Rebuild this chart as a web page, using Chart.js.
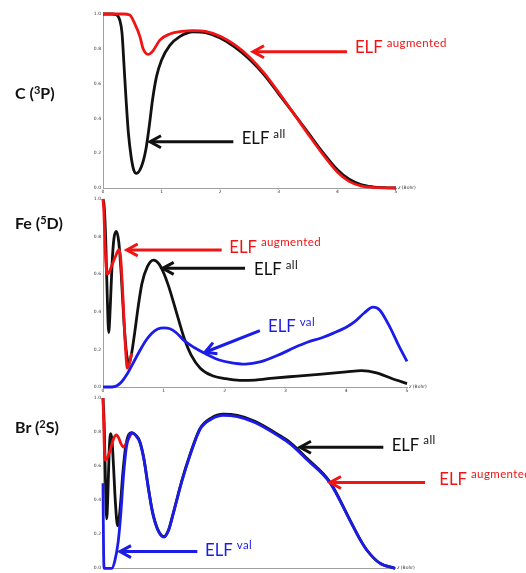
<!DOCTYPE html>
<html>
<head>
<meta charset="utf-8">
<script src="https://cdn.jsdelivr.net/npm/chart.js@4.4.1/dist/chart.umd.min.js"></script>
<style>
body { margin: 0; background: #fff; }
#page { position: relative; width: 526px; height: 573px; overflow: hidden; }
#page canvas { position: absolute; left: 0; top: 0; }
.panel { position: absolute; left: 15px; font: bold 16px Lato, sans-serif; color: #111; line-height: 20px; white-space: nowrap; }
.panel sup { font-size: 11px; position: relative; top: -5px; vertical-align: baseline; }
.note { position: absolute; white-space: nowrap; font-family: Lato, sans-serif; font-size: 16.7px; line-height: 1; }
.note sup { font-size: 11.5px; position: relative; top: -6.5px; vertical-align: baseline; margin-left: 4px; letter-spacing: 0.4px; }
.unit { position: absolute; white-space: nowrap; font: 4.5px "DejaVu Sans", sans-serif; color: #333; line-height: 1; }
</style>
</head>
<body>
<div id="page">
    <canvas id="c1" width="526" height="573"></canvas>
    <canvas id="c2" width="526" height="573"></canvas>
    <canvas id="c3" width="526" height="573"></canvas>
    <div class="panel" style="top:83px">C (<sup>3</sup>P)</div>
    <div class="panel" style="top:213px">Fe (<sup>5</sup>D)</div>
    <div class="panel" style="top:417px">Br (<sup>2</sup>S)</div>
</div>
<script>
// ELF profiles, [z (Bohr), ELF]
const cAll = [[0, 1], [0.15, 1], [0.23, 0.996], [0.285, 0.966], [0.325, 0.889], [0.36, 0.697], [0.394, 0.506],
    [0.434, 0.314], [0.48, 0.18], [0.525, 0.103], [0.571, 0.084], [0.656, 0.123], [0.73, 0.218], [0.788, 0.352],
    [0.845, 0.506], [0.913, 0.64], [1.0, 0.736], [1.14, 0.82], [1.31, 0.87], [1.54, 0.898], [1.75, 0.893],
    [2.0, 0.862], [2.25, 0.81], [2.5, 0.74], [2.75, 0.65], [3.0, 0.54], [3.25, 0.43], [3.5, 0.318], [3.75, 0.205],
    [4.0, 0.105], [4.2, 0.05], [4.4, 0.02], [4.6, 0.007], [4.8, 0.002], [5.0, 0]];
const cAug = [[0, 1], [0.35, 1], [0.457, 0.994], [0.54, 0.946], [0.63, 0.87], [0.685, 0.8], [0.77, 0.768],
    [0.856, 0.79], [0.97, 0.85], [1.14, 0.885], [1.35, 0.9], [1.54, 0.905], [1.75, 0.9], [2.0, 0.872],
    [2.25, 0.822], [2.5, 0.752], [2.75, 0.66], [3.0, 0.548], [3.25, 0.43], [3.5, 0.31], [3.75, 0.195],
    [4.0, 0.092], [4.2, 0.038], [4.4, 0.012], [4.6, 0.004], [4.8, 0.001], [5.0, 0]];

const feAll = [[0, 1], [0.02, 0.96], [0.045, 0.78], [0.07, 0.48], [0.094, 0.29], [0.12, 0.43], [0.15, 0.66],
    [0.18, 0.79], [0.22, 0.828], [0.26, 0.77], [0.3, 0.6], [0.34, 0.37], [0.38, 0.2], [0.425, 0.125],
    [0.46, 0.16], [0.5, 0.24], [0.526, 0.3], [0.58, 0.43], [0.64, 0.55], [0.73, 0.64], [0.83, 0.675],
    [0.92, 0.655], [1.0, 0.605], [1.08, 0.535], [1.16, 0.45], [1.25, 0.35], [1.34, 0.255], [1.45, 0.17],
    [1.6, 0.1], [1.8, 0.06], [2.0, 0.045], [2.25, 0.035], [2.5, 0.037], [2.8, 0.047], [3.2, 0.058],
    [3.6, 0.069], [4.0, 0.08], [4.25, 0.087], [4.5, 0.075], [4.75, 0.045], [5.0, 0.018]];
const feAug = [[0, 1], [0.015, 0.93], [0.035, 0.74], [0.066, 0.6], [0.1, 0.61], [0.15, 0.65], [0.2, 0.69],
    [0.26, 0.73], [0.29, 0.69], [0.32, 0.53], [0.35, 0.33], [0.375, 0.18], [0.4, 0.1], [0.43, 0.12], [0.47, 0.18]];
const feVal = [[0, 0], [0.15, 0], [0.22, 0.005], [0.3, 0.025], [0.4, 0.07], [0.5, 0.13], [0.6, 0.19],
    [0.7, 0.245], [0.8, 0.285], [0.9, 0.308], [1.0, 0.315], [1.1, 0.31], [1.2, 0.29], [1.34, 0.245],
    [1.5, 0.21], [1.68, 0.178], [1.9, 0.145], [2.1, 0.13], [2.34, 0.122], [2.6, 0.135], [2.92, 0.175],
    [3.15, 0.21], [3.36, 0.238], [3.6, 0.262], [3.8, 0.288], [4.0, 0.318], [4.13, 0.345], [4.3, 0.395],
    [4.44, 0.425], [4.55, 0.41], [4.7, 0.33], [4.85, 0.23], [5.0, 0.136]];

const brAll = [[0, 1], [0.02, 0.85], [0.04, 0.55], [0.063, 0.29], [0.085, 0.45], [0.105, 0.68], [0.13, 0.79],
    [0.155, 0.75], [0.18, 0.6], [0.21, 0.4], [0.25, 0.25], [0.29, 0.34], [0.34, 0.56], [0.39, 0.72],
    [0.44, 0.785], [0.49, 0.797], [0.56, 0.782], [0.63, 0.745], [0.7, 0.645], [0.776, 0.475], [0.84, 0.345],
    [0.89, 0.275], [0.96, 0.213], [1.045, 0.186], [1.12, 0.223], [1.2, 0.32], [1.35, 0.515], [1.49, 0.668],
    [1.66, 0.82], [1.85, 0.882], [2.06, 0.905], [2.3, 0.898], [2.6, 0.864], [3.03, 0.779], [3.2, 0.739],
    [3.5, 0.643], [3.89, 0.505], [4.23, 0.283], [4.4, 0.171], [4.52, 0.106], [4.74, 0.03], [5.0, 0]];
const brAug = [[0, 1], [0.012, 0.85], [0.025, 0.68], [0.034, 0.634], [0.06, 0.64], [0.12, 0.69], [0.18, 0.76],
    [0.23, 0.783], [0.27, 0.765], [0.31, 0.73], [0.35, 0.712], [0.4, 0.735], [0.46, 0.775], [0.49, 0.792]];
const brVal = [[0, 0.5], [0.01, 0.1], [0.02, 0], [0.15, 0], [0.2, 0.04], [0.26, 0.155], [0.3, 0.3],
    [0.35, 0.54], [0.4, 0.71], [0.45, 0.78], [0.5, 0.795], [0.56, 0.78], [0.63, 0.74], [0.7, 0.64],
    [0.776, 0.47], [0.84, 0.34], [0.89, 0.27], [0.96, 0.21], [1.045, 0.183], [1.12, 0.22], [1.2, 0.317],
    [1.35, 0.51], [1.49, 0.663], [1.66, 0.815], [1.85, 0.875], [2.06, 0.898], [2.3, 0.89], [2.6, 0.856],
    [3.03, 0.772], [3.2, 0.732], [3.5, 0.636], [3.89, 0.5], [4.23, 0.28], [4.4, 0.17], [4.52, 0.106],
    [4.74, 0.03], [5.0, 0]];

const xTickLabels = ['0', '1', '2', '3', '4', '5'];
const yTickLabels = ['0.0', '0.2', '0.4', '0.6', '0.8', '1.0'];

const RED = '#f01414';
const BLACK = '#111111';
const BLUE = '#1c1ce8';

function line(data, color, order) {
    return {
        data: data.map(p => ({ x: p[0], y: p[1] })),
        borderColor: color,
        borderWidth: 2.8,
        pointRadius: 0,
        cubicInterpolationMode: 'monotone',
        fill: false,
        clip: 4,
        order: order
    };
}

// open arrow heads, placed in data units of each panel
function arrowPlugin(list) {
    return {
        id: 'arrows',
        afterDatasetsDraw(chart) {
            const ctx = chart.ctx;
            const sx = chart.scales.x, sy = chart.scales.y;
            for (const a of list) {
                const tx = sx.getPixelForValue(a.tip[0]), ty = sy.getPixelForValue(a.tip[1]);
                const ex = sx.getPixelForValue(a.tail[0]), ey = sy.getPixelForValue(a.tail[1]);
                const ang = Math.atan2(ey - ty, ex - tx);
                ctx.save();
                ctx.strokeStyle = a.color;
                ctx.lineWidth = 3;
                ctx.beginPath();
                ctx.moveTo(ex, ey);
                ctx.lineTo(tx + Math.cos(ang) * 2, ty + Math.sin(ang) * 2);
                ctx.stroke();
                ctx.lineJoin = 'miter';
                ctx.beginPath();
                ctx.moveTo(tx + 12.5 * Math.cos(ang + 0.5), ty + 12.5 * Math.sin(ang + 0.5));
                ctx.lineTo(tx, ty);
                ctx.lineTo(tx + 12.5 * Math.cos(ang - 0.5), ty + 12.5 * Math.sin(ang - 0.5));
                ctx.stroke();
                ctx.restore();
            }
        }
    };
}

const panels = [
    {
        canvas: 'c1', top: 14, bottom: 188, right: 396, xh: 10,
        datasets: [line(cAll, BLACK, 2), line(cAug, RED, 1)],
        arrows: [
            { color: RED, tip: [2.56, 0.783], tail: [4.164, 0.783] },
            { color: BLACK, tip: [0.802, 0.266], tail: [2.224, 0.266] }
        ],
        notes: [
            { color: RED, sup: 'augmented', at: [4.30, 0.770] },
            { color: BLACK, sup: 'all', at: [2.367, 0.247] }
        ]
    },
    {
        canvas: 'c2', top: 199, bottom: 387, right: 407, xh: 10,
        datasets: [line(feAll, BLACK, 2), line(feAug, RED, 1), line(feVal, BLUE, 0)],
        arrows: [
            { color: RED, tip: [0.39, 0.729], tail: [1.952, 0.729] },
            { color: BLACK, tip: [0.982, 0.631], tail: [2.336, 0.631] },
            { color: BLUE, tip: [1.678, 0.185], tail: [2.58, 0.30] }
        ],
        notes: [
            { color: RED, sup: 'augmented', at: [2.077, 0.711] },
            { color: BLACK, sup: 'all', at: [2.484, 0.590] },
            { color: BLUE, sup: 'val', at: [2.714, 0.287] }
        ]
    },
    {
        canvas: 'c3', top: 398, bottom: 572, right: 395, xh: 1,
        datasets: [line(brAll, BLACK, 2), line(brAug, RED, 1), line(brVal, BLUE, 0)],
        arrows: [
            { color: BLACK, tip: [3.373, 0.711], tail: [4.8, 0.711] },
            { color: RED, tip: [3.887, 0.504], tail: [5.514, 0.504] },
            { color: BLUE, tip: [0.291, 0.098], tail: [1.615, 0.098] }
        ],
        notes: [
            { color: BLACK, sup: 'all', at: [4.943, 0.686] },
            { color: RED, sup: 'augmented', at: [5.759, 0.487] },
            { color: BLUE, sup: 'val', at: [1.747, 0.069] }
        ]
    }
];

function makePanel(p) {
    const tickFont = { size: 4.5, family: 'DejaVu Sans' };
    const chart = new Chart(document.getElementById(p.canvas), {
        type: 'line',
        data: { datasets: p.datasets },
        options: {
            animation: false,
            responsive: false,
            events: [],
            layout: { padding: { left: 0, top: p.top, right: 526 - p.right, bottom: 573 - p.bottom - p.xh } },
            plugins: { legend: { display: false }, tooltip: { enabled: false } },
            scales: {
                x: {
                    type: 'linear', min: 0, max: 5,
                    afterFit: s => { s.height = p.xh; },
                    grid: { drawOnChartArea: false, drawTicks: false },
                    border: { color: '#a0a0a0', width: 1 },
                    ticks: { stepSize: 1, padding: 1.5, color: '#333', font: tickFont, maxRotation: 0, autoSkip: false,
                        callback: (v, i) => xTickLabels[i] }
                },
                y: {
                    type: 'linear', min: 0, max: 1,
                    afterFit: s => { s.width = 103; },
                    grid: { drawOnChartArea: false, drawTicks: false },
                    border: { color: '#a0a0a0', width: 1 },
                    ticks: { stepSize: 0.2, padding: 2, color: '#333', font: tickFont,
                        callback: (v, i) => yTickLabels[i] }
                }
            }
        },
        plugins: [arrowPlugin(p.arrows)]
    });

    const page = document.getElementById('page');
    const sx = chart.scales.x, sy = chart.scales.y;
    for (const n of p.notes) {
        const div = document.createElement('div');
        div.className = 'note';
        div.style.color = n.color;
        div.style.left = sx.getPixelForValue(n.at[0]) + 'px';
        div.style.top = (sy.getPixelForValue(n.at[1]) - 14.8) + 'px';
        div.innerHTML = 'ELF<sup>' + n.sup + '</sup>';
        page.appendChild(div);
    }
    const unit = document.createElement('div');
    unit.className = 'unit';
    unit.style.left = (sx.getPixelForValue(5) + 2) + 'px';
    unit.style.top = (sy.getPixelForValue(0) - 2.5) + 'px';
    unit.innerHTML = '<i>z</i> (Bohr)';
    page.appendChild(unit);
}

for (const p of panels) {
    makePanel(p);
}
</script>
</body>
</html>
